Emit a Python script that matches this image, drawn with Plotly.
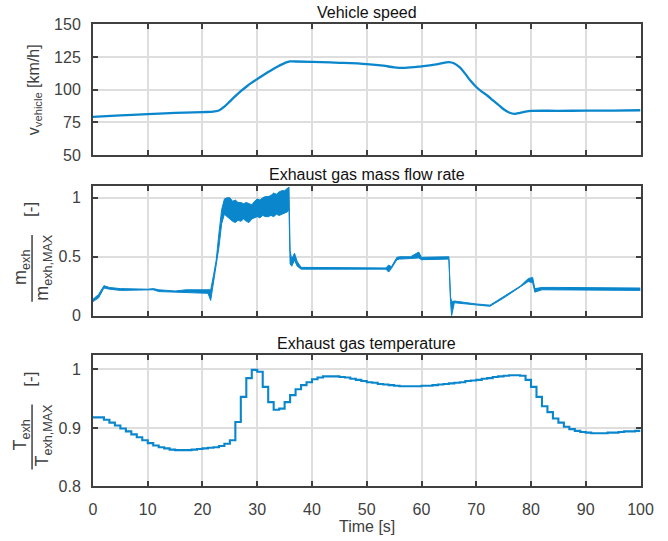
import plotly.graph_objects as go

# ---------------- data ----------------
speed_t = [0, 5, 10, 15, 20, 22, 23, 24, 25, 26, 27, 28, 29, 30, 31, 32, 33, 34, 35, 36,
           37, 40, 45, 50, 53, 55, 57, 60, 63, 65, 66, 67, 68, 69, 70, 71, 72, 73, 74, 75,
           76, 77, 78, 79, 80, 85, 90, 95, 100]
speed_v = [79.2, 80.3, 81.3, 82.2, 82.8, 83.2, 84.0, 87.0, 91.0, 95.0, 98.8, 102.2, 105.3, 108.0,
           110.8, 113.5, 116.0, 118.3, 120.3, 121.6, 121.5, 121.2, 120.5, 119.5, 118.3, 117.0,
           116.6, 117.8, 119.5, 121.0, 120.0, 117.0, 112.0, 106.5, 102.0, 98.5, 95.5, 92.0,
           88.5, 85.0, 82.5, 81.5, 82.3, 83.2, 83.7, 83.8, 83.9, 84.0, 84.2]

flow_t = [0, 1, 2, 3, 5, 8, 10, 11, 12, 15, 17, 19, 21, 21.5, 22, 22.5, 23, 23.5, 24, 24.5,
          25, 25.5, 26, 26.5, 27, 27.5, 28, 28.5, 29, 29.5, 30, 30.5, 31, 31.5, 32, 32.5, 33,
          33.5, 34, 34.5, 35, 35.5, 35.8, 36.0, 36.3, 36.8, 37.3, 38, 40, 45, 50, 53.5, 54,
          54.5, 55.5, 56, 58, 59.5, 60, 61, 63, 65, 65.3, 65.5, 66, 68, 70, 72.5, 75, 78, 79.5,
          80.3, 80.7, 82, 85, 90, 95, 100]
flow_lo = [0.12, 0.15, 0.235, 0.225, 0.215, 0.215, 0.215, 0.22, 0.205, 0.20, 0.195, 0.19, 0.19,
           0.13, 0.28, 0.40, 0.58, 0.78, 0.86, 0.84, 0.82, 0.80, 0.79, 0.81, 0.80, 0.82, 0.80,
           0.79, 0.82, 0.83, 0.84, 0.83, 0.85, 0.84, 0.84, 0.85, 0.84, 0.86, 0.85, 0.86, 0.87,
           0.88, 0.90, 0.44, 0.42, 0.47, 0.42, 0.395, 0.395, 0.395, 0.395, 0.395, 0.37, 0.40, 0.475,
           0.48, 0.485, 0.49, 0.475, 0.475, 0.475, 0.48, 0.12, 0.00, 0.11, 0.10, 0.09, 0.08, 0.15,
           0.24, 0.29, 0.28, 0.20, 0.22, 0.22, 0.22, 0.22, 0.215]
flow_hi = [0.14, 0.18, 0.255, 0.24, 0.23, 0.225, 0.225, 0.23, 0.22, 0.21, 0.22, 0.22, 0.225,
           0.22, 0.34, 0.47, 0.70, 0.90, 0.99, 1.00, 1.00, 0.97, 0.98, 0.96, 0.96, 0.95, 0.96,
           0.95, 0.94, 0.97, 0.99, 0.98, 1.00, 1.01, 1.01, 1.02, 1.04, 1.03, 1.05, 1.06, 1.06,
           1.08, 1.09, 0.55, 0.48, 0.53, 0.46, 0.41, 0.41, 0.41, 0.41, 0.405, 0.43, 0.415, 0.495,
           0.50, 0.50, 0.54, 0.495, 0.495, 0.50, 0.50, 0.16, 0.12, 0.125, 0.11, 0.10, 0.09, 0.16,
           0.25, 0.315, 0.325, 0.23, 0.24, 0.24, 0.24, 0.235, 0.235]

temp_t = list(range(0, 101))
temp_v = [0.918, 0.918, 0.914, 0.909, 0.904, 0.899, 0.894, 0.889, 0.884, 0.879,
          0.874, 0.870, 0.867, 0.865, 0.863, 0.862, 0.862, 0.862, 0.863, 0.864,
          0.865, 0.866, 0.867, 0.869, 0.873, 0.879, 0.910, 0.953, 0.985, 0.999,
          0.996, 0.970, 0.944, 0.931, 0.933, 0.944, 0.956, 0.966, 0.973, 0.978,
          0.983, 0.986, 0.988, 0.988, 0.988, 0.987, 0.986, 0.984, 0.982, 0.980,
          0.978, 0.977, 0.975, 0.974, 0.973, 0.972, 0.971, 0.971, 0.971, 0.971,
          0.972, 0.972, 0.973, 0.974, 0.975, 0.976, 0.977, 0.978, 0.980, 0.981,
          0.982, 0.984, 0.985, 0.987, 0.988, 0.989, 0.990, 0.990, 0.989, 0.982,
          0.970, 0.953, 0.937, 0.927, 0.916, 0.909, 0.902, 0.898, 0.895, 0.893,
          0.892, 0.891, 0.891, 0.891, 0.892, 0.892, 0.893, 0.894, 0.894, 0.895,
          0.895]

x_ticks = [0, 10, 20, 30, 40, 50, 60, 70, 80, 90, 100]
speed_ticks = [50, 75, 100, 125, 150]
flow_ticks = [0, 0.5, 1]
temp_ticks = [0.8, 0.9, 1]

# ---------------- styling ----------------
# The photographed page is slightly reduced and offset by the page margin;
# positions below are given in picture pixels and mapped to figure pixels.
SX, SY, OX, OY = 0.976, 0.971, 3, 8
W, H = 684, 557
BLUE = "#0a86cc"
FRAME = "#404040"
GRID = "#dedede"
FONT = "Liberation Sans, Arial, sans-serif"

def px(x):
    return (x / SX - OX) / W

def py(y):
    return 1 - (y / SY - OY) / H

fig = go.Figure()

fig.add_trace(go.Scatter(x=speed_t, y=speed_v, mode="lines", line=dict(color=BLUE, width=2.3),
                         line_shape="spline", xaxis="x", yaxis="y", showlegend=False))
fig.add_trace(go.Scatter(x=flow_t, y=flow_lo, mode="lines", line=dict(color=BLUE, width=1.0),
                         xaxis="x2", yaxis="y2", showlegend=False))
fig.add_trace(go.Scatter(x=flow_t, y=flow_hi, mode="lines", line=dict(color=BLUE, width=1.0),
                         fill="tonexty", fillcolor=BLUE, xaxis="x2", yaxis="y2", showlegend=False))
fig.add_trace(go.Scatter(x=temp_t, y=temp_v, mode="lines", line=dict(color=BLUE, width=2.1),
                         line_shape="hv", xaxis="x3", yaxis="y3", showlegend=False))

xdom = [px(92), px(640)]
ydoms = [[py(155), py(24)], [py(316), py(186)], [py(487), py(355)]]

common_axis = dict(showline=True, linecolor=FRAME, linewidth=2, mirror="ticks",
                   ticks="inside", ticklen=5, tickwidth=2, tickcolor=FRAME,
                   showgrid=True, gridcolor=GRID, gridwidth=2, zeroline=False,
                   ticklabelstandoff=7,
                   tickfont=dict(family=FONT, size=16, color=FRAME))

layout = dict(width=W, height=H, margin=dict(l=0, r=0, t=0, b=0),
              paper_bgcolor="white", plot_bgcolor="white", showlegend=False,
              font=dict(family=FONT, color=FRAME))

for i, (yr, yt, ylabels) in enumerate([
        ([50, 150], speed_ticks, [str(v) for v in speed_ticks]),
        ([0, 1.1], flow_ticks, ["0", "0.5", "1"]),
        ([0.8, 1.025], temp_ticks, ["0.8", "0.9", "1"])]):
    sfx = "" if i == 0 else str(i + 1)
    layout["xaxis" + sfx] = dict(common_axis, domain=xdom, range=[0, 100], tickvals=x_ticks,
                                 ticktext=[str(v) for v in x_ticks],
                                 showticklabels=(i == 2), anchor="y" + sfx)
    layout["yaxis" + sfx] = dict(common_axis, domain=ydoms[i], range=yr, tickvals=yt,
                                 ticktext=ylabels, anchor="x" + sfx)

fig.update_layout(**layout)

ann = []
# titles
for text, y in [("Vehicle speed", 12), ("Exhaust gas mass flow rate", 175),
                ("Exhaust gas temperature", 344), ]:
    ann.append(dict(text=text, x=px(366), y=py(y), xref="paper", yref="paper",
                    showarrow=False, xanchor="center", yanchor="middle",
                    font=dict(family=FONT, size=16, color="#111111")))
ann.append(dict(text="Time [s]", x=px(366), y=py(527), xref="paper", yref="paper",
                showarrow=False, xanchor="center", yanchor="middle",
                font=dict(family=FONT, size=16, color=FRAME)))

# y labels
ann.append(dict(text="v<sub>vehicle</sub> [km/h]", x=px(33), y=py(90), xref="paper", yref="paper",
                showarrow=False, textangle=-90, xanchor="center", yanchor="middle",
                font=dict(family=FONT, size=16, color=FRAME)))

for (num, den, ybr, ycen, ylo, yhi) in [
        ("m<sub>exh</sub>", "m<sub>exh,MAX</sub>", 210, 268, 235, 302),
        ("T<sub>exh</sub>", "T<sub>exh,MAX</sub>", 380, 436, 405, 470)]:
    ann.append(dict(text="[-]", x=px(30), y=py(ybr), xref="paper", yref="paper",
                    showarrow=False, textangle=-90, xanchor="center", yanchor="middle",
                    font=dict(family=FONT, size=17, color=FRAME)))
    ann.append(dict(text=num, x=px(21), y=py(ycen), xref="paper", yref="paper",
                    showarrow=False, textangle=-90, xanchor="center", yanchor="middle",
                    font=dict(family=FONT, size=18, color=FRAME)))
    ann.append(dict(text=den, x=px(43), y=py(ycen), xref="paper", yref="paper",
                    showarrow=False, textangle=-90, xanchor="center", yanchor="middle",
                    font=dict(family=FONT, size=18, color=FRAME)))
    fig.add_shape(type="line", xref="paper", yref="paper", x0=px(31), x1=px(31),
                  y0=py(ylo), y1=py(yhi), line=dict(color=FRAME, width=1.5))

fig.update_layout(annotations=ann)

fig.write_html("out.html")
